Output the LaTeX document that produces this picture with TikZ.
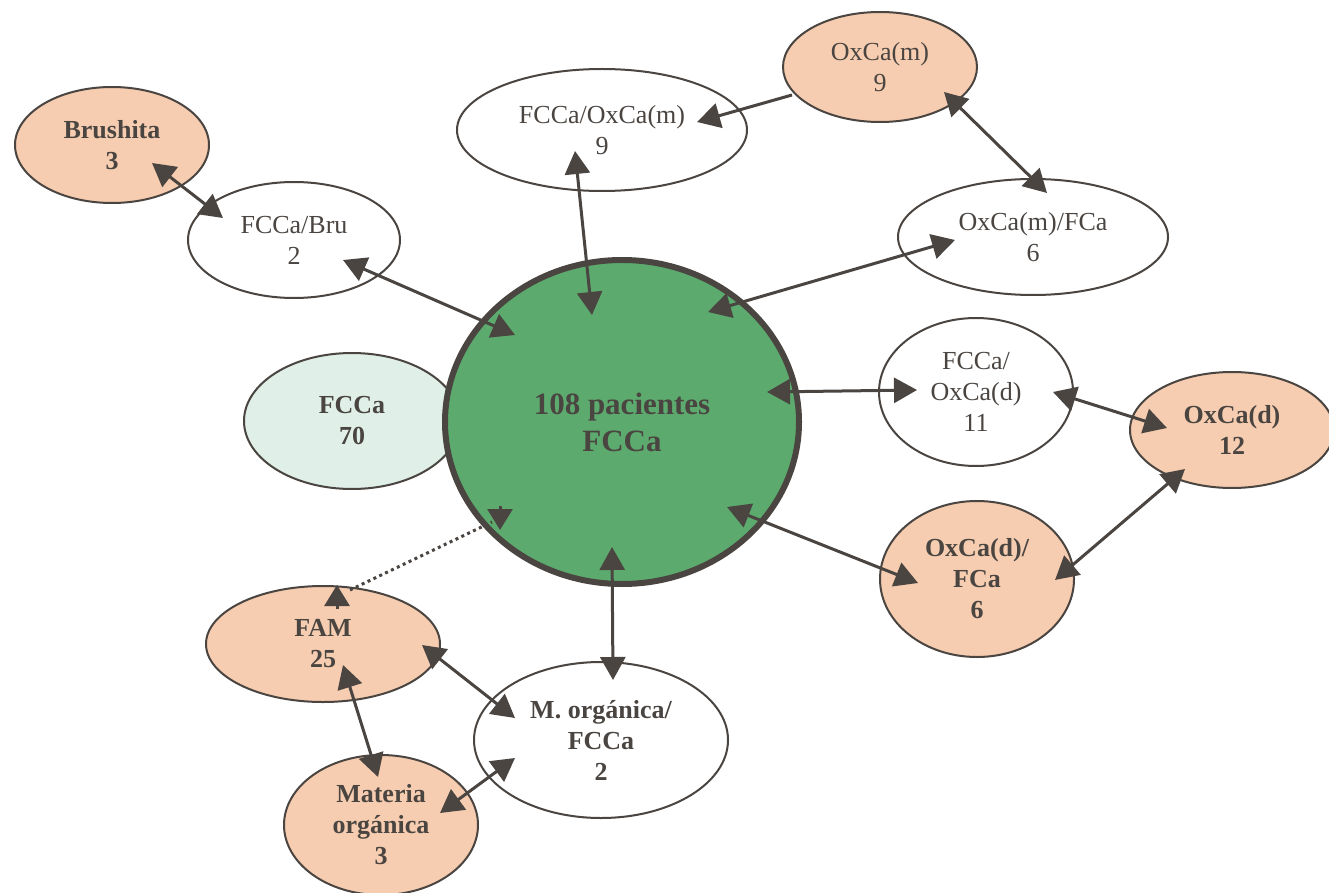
\documentclass[tikz,border=0pt]{standalone}
\usepackage{fontspec}
\setmainfont{Liberation Serif}
\usetikzlibrary{arrows.meta,shapes.geometric}

\definecolor{ink}{HTML}{4A4541}
\definecolor{hubgreen}{HTML}{5DAA6E}
\definecolor{peach}{HTML}{F6CDB0}
\definecolor{mint}{HTML}{E0F0E8}

\tikzset{
  oval/.style={ellipse, draw=ink, line width=2pt, inner sep=0pt, align=center,
    text=ink, font=\fontsize{26}{31}\selectfont},
  wbox/.style={oval, fill=white},
  pbox/.style={oval, fill=peach},
  bold/.style={font=\fontsize{26}{31}\selectfont\bfseries},
  hub/.style={ellipse, draw=ink, line width=6pt, fill=hubgreen, inner sep=0pt,
    align=center, text=ink, font=\fontsize{31}{37}\selectfont\bfseries},
  link/.style={draw=ink, line width=3pt, {Triangle[length=23pt,width=25pt]}-{Triangle[length=23pt,width=25pt]}},
  onelink/.style={draw=ink, line width=3pt, -{Triangle[length=23pt,width=25pt]}},
  dotlink/.style={draw=ink, line width=3pt, dash pattern=on 3pt off 3.5pt},
  vtip/.style={draw=ink, line width=3pt, -{Triangle[length=21pt,width=25pt]}},
}

\begin{document}
\begin{tikzpicture}[x=1pt,y=-1pt]
\useasboundingbox (0,0) rectangle (1329,893);
\fill[white] (0,0) rectangle (1329,893);

% outer stones and mixtures
\node[pbox,bold,minimum width=194pt,minimum height=116pt] (bru) at (112,145) {Brushita\\3};
\node[wbox,minimum width=212pt,minimum height=116pt] (fbru) at (294,240) {FCCa/Bru\\2};
\node[wbox,minimum width=290pt,minimum height=122pt] (fom) at (602,130) {FCCa/OxCa(m)\\9};
\node[pbox,minimum width=194pt,minimum height=110pt] (oxm) at (880,67) {OxCa(m)\\9};
\node[wbox,minimum width=270pt,minimum height=116pt] (omf) at (1033,237) {OxCa(m)/FCa\\6};
\node[wbox,minimum width=194pt,minimum height=148pt] (fod) at (976,392) {FCCa/\\OxCa(d)\\11};
\node[pbox,bold,minimum width=204pt,minimum height=116pt] (oxd) at (1232,430) {OxCa(d)\\12};
\node[pbox,bold,minimum width=194pt,minimum height=156pt] (odf) at (977,579) {OxCa(d)/\\FCa\\6};
\node[oval,fill=mint,bold,minimum width=216pt,minimum height=136pt] (fcca) at (352,421) {FCCa\\70};
\node[pbox,bold,minimum width=234pt,minimum height=116pt] (fam) at (323,644) {FAM\\25};
\node[pbox,bold,minimum width=194pt,minimum height=140pt] (mat) at (381,825) {Materia\\orgánica\\3};
\node[wbox,bold,minimum width=254pt,minimum height=156pt] (morg) at (601,740) {M. orgánica/\\FCCa\\2};

% central group
\node[hub,minimum width=354pt,minimum height=324pt] (ctr) at (622,422) {108 pacientes\\FCCa};

% connectors
\draw[link] ([shift={(40,18)}]bru.center) -- ([shift={(-71,-22)}]fbru.center);
\draw[link] ([shift={(49,20)}]fbru.center) -- ([shift={(-107,-87)}]ctr.center);
\draw[link] ([shift={(-27,21)}]fom.center) -- ([shift={(-30,-107)}]ctr.center);
\draw[onelink] ([shift={(-88,28)}]oxm.center) -- ([shift={(95,-8)}]fom.center);
\draw[link] ([shift={(64,25)}]oxm.center) -- ([shift={(14,-44)}]omf.center);
\draw[link] ([shift={(-78,3)}]omf.center) -- ([shift={(86,-110)}]ctr.center);
\draw[link] ([shift={(145,-30)}]ctr.center) -- ([shift={(-59,-2)}]fod.center);
\draw[link] ([shift={(77,0)}]fod.center) -- ([shift={(-65,-2)}]oxd.center);
\draw[link] ([shift={(-47,39)}]oxd.center) -- ([shift={(78,1)}]odf.center);
\draw[link] ([shift={(105,85)}]ctr.center) -- ([shift={(-59,4)}]odf.center);
\draw[link] ([shift={(-10,125)}]ctr.center) -- ([shift={(12,-60)}]morg.center);
\draw[link] ([shift={(99,1)}]fam.center) -- ([shift={(-86,-22)}]morg.center);
\draw[link] ([shift={(20,21)}]fam.center) -- ([shift={(-3,-48)}]mat.center);
\draw[link] ([shift={(59,-12)}]mat.center) -- ([shift={(-86,18)}]morg.center);

% dotted link between FAM and the central group
\draw[dotlink] ([shift={(27,-54)}]fam.center) -- ([shift={(-130,100)}]ctr.center);
\draw[vtip] ([shift={(-122,84)}]ctr.center) -- ([shift={(-122,108)}]ctr.center);
\draw[vtip] ([shift={(14,-35)}]fam.center) -- ([shift={(14,-59)}]fam.center);
\end{tikzpicture}
\end{document}
